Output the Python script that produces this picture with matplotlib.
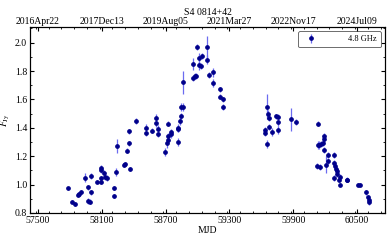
import datetime
import matplotlib
matplotlib.use("Agg")
import matplotlib.pyplot as plt
from matplotlib.ticker import MultipleLocator, FixedLocator, FuncFormatter

# --- DATA ---
mjd = [57785, 57817, 57851, 57879, 57882, 57907, 57942, 57968, 57970, 57989,
       57996, 57996, 58055, 58090, 58090, 58090, 58093, 58124, 58130, 58152,
       58212, 58212, 58237, 58240, 58306, 58321, 58334, 58359, 58359, 58362,
       58425, 58516, 58516, 58575, 58605, 58607, 58632, 58632, 58692, 58716,
       58718, 58720, 58720, 58751, 58754, 58814, 58817, 58817, 58836, 58843,
       58843, 58867, 58867, 58955, 58958, 58975, 58990, 58993, 59011, 59015,
       59030, 59046, 59090, 59093, 59112, 59143, 59143, 59212, 59212, 59243,
       59243,
       59635, 59635, 59657, 59657, 59667, 59670, 59676, 59701, 59739, 59761,
       59761, 59761, 59877, 59921, 60122, 60128, 60128, 60146, 60153, 60165,
       60178, 60184, 60190, 60190, 60203, 60222, 60222, 60278, 60278, 60285,
       60291, 60297, 60310, 60310, 60325, 60335, 60335, 60404, 60404, 60504,
       60529, 60586, 60598, 60608, 60611]
flux = [0.975, 0.88, 0.865, 0.93, 0.935, 0.95, 1.05, 0.98, 0.885, 0.88,
        0.945, 1.06, 1.02, 1.12, 1.10, 1.045, 1.02, 1.085, 1.055, 1.045,
        0.975, 0.92, 1.09, 1.27, 1.14, 1.145, 1.24, 1.29, 1.375, 1.11,
        1.45, 1.40, 1.36, 1.38, 1.47, 1.435, 1.39, 1.355, 1.23, 1.29,
        1.315, 1.34, 1.43, 1.37, 1.355, 1.40, 1.39, 1.30, 1.45, 1.485,
        1.545, 1.545, 1.72, 1.85, 1.75, 1.765, 1.765, 1.97, 1.89, 1.84,
        1.835, 1.905, 1.97, 1.88, 1.77, 1.79, 1.715, 1.67, 1.62, 1.60,
        1.545,
        1.385, 1.36, 1.55, 1.285, 1.495, 1.47, 1.405, 1.37, 1.48, 1.475,
        1.44, 1.385, 1.46, 1.44, 1.13, 1.43, 1.28, 1.28, 1.125, 1.285,
        1.29, 1.32, 1.345, 1.245, 1.14, 1.21, 1.165, 1.21, 1.045, 1.155,
        1.13, 1.11, 1.095, 1.075, 1.035, 1.055, 1.0, 1.035, 1.03, 1.0,
        1.0, 0.945, 0.91, 0.89, 0.875]
err = [0.01, 0.01, 0.015, 0.015, 0.01, 0.01, 0.03, 0.02, 0.02, 0.02,
       0.02, 0.02, 0.01, 0.02, 0.02, 0.015, 0.015, 0.02, 0.02, 0.02,
       0.015, 0.015, 0.03, 0.05, 0.015, 0.015, 0.02, 0.02, 0.02, 0.015,
       0.02, 0.03, 0.02, 0.02, 0.03, 0.03, 0.03, 0.02, 0.03, 0.03,
       0.02, 0.02, 0.02, 0.02, 0.03, 0.03, 0.02, 0.03, 0.03, 0.02,
       0.03, 0.03, 0.08, 0.04, 0.02, 0.02, 0.02, 0.02, 0.04, 0.03,
       0.02, 0.02, 0.08, 0.03, 0.02, 0.03, 0.03, 0.02, 0.02, 0.02,
       0.02,
       0.02, 0.02, 0.09, 0.03, 0.03, 0.02, 0.02, 0.03, 0.02, 0.02,
       0.03, 0.03, 0.08, 0.02, 0.02, 0.02, 0.03, 0.03, 0.02, 0.02,
       0.02, 0.02, 0.02, 0.02, 0.06, 0.02, 0.02, 0.02, 0.02, 0.02,
       0.02, 0.02, 0.02, 0.02, 0.02, 0.02, 0.01, 0.02, 0.01, 0.01,
       0.01, 0.02, 0.02, 0.02, 0.02]
x_ticks = [57500, 58100, 58700, 59300, 59900, 60500]

plt.rcParams["font.family"] = ["Liberation Serif", "DejaVu Serif"]
plt.rcParams["mathtext.fontset"] = "stix"
plt.rcParams["font.size"] = 7

fig = plt.figure(figsize=(3.89, 2.40), dpi=100)
ax = fig.add_axes([0.077, 0.1125, 0.913, 0.775])

ax.errorbar(mjd, flux, yerr=err, fmt="o", ms=2.4, color="#00008b",
            ecolor="#6b6bf0", elinewidth=0.9, capsize=0, label="4.8 GHz")

ax.set_xlim(57425, 60763)
ax.set_ylim(0.8, 2.11)
ax.xaxis.set_major_locator(FixedLocator(x_ticks))
ax.xaxis.set_minor_locator(MultipleLocator(120))
ax.yaxis.set_major_locator(MultipleLocator(0.2))
ax.yaxis.set_minor_locator(MultipleLocator(0.1))
ax.yaxis.set_major_formatter(FuncFormatter(lambda v, p: f"{v:.1f}"))
ax.tick_params(which="both", direction="in", right=True, labelsize=7, pad=2)
ax.tick_params(which="major", length=3)
ax.tick_params(which="minor", length=1.5)
ax.set_xlabel("MJD", fontsize=7, labelpad=1)
ax.set_ylabel(r"$F_{\rm Jy}$", fontsize=7, labelpad=2)

# top axis with calendar dates
mjd0 = datetime.date(1858, 11, 17)
top = ax.twiny()
top.set_xlim(ax.get_xlim())
top.xaxis.set_major_locator(FixedLocator(x_ticks))
top.xaxis.set_minor_locator(MultipleLocator(120))
top.xaxis.set_major_formatter(FuncFormatter(
    lambda v, p: (mjd0 + datetime.timedelta(days=int(round(v)))).strftime("%Y%b%d")))
top.tick_params(which="both", direction="in", labelsize=7, pad=0.5)
top.tick_params(which="major", length=3)
top.tick_params(which="minor", length=1.5)
top.set_title("S4 0814+42", fontsize=7, pad=1.5)

leg = ax.legend(loc="upper right", fontsize=6, fancybox=True, framealpha=1,
                edgecolor="#555555", handletextpad=3.5, borderpad=0.5)
leg.get_frame().set_linewidth(0.6)

fig.savefig("out.png", dpi=100)
